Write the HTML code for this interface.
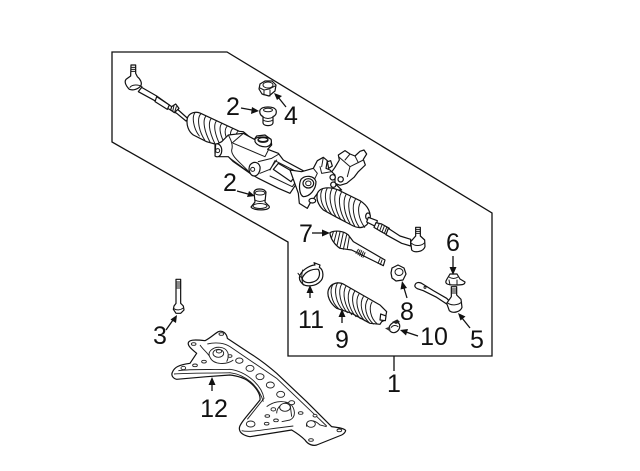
<!DOCTYPE html>
<html><head><meta charset="utf-8"><style>
html,body{margin:0;padding:0;background:#fff}
svg{display:block}
text{font-family:"Liberation Sans",sans-serif;font-size:25px;fill:#111;text-anchor:middle}
.p{fill:#fff;stroke:#111;stroke-width:1.2;stroke-linejoin:round;stroke-linecap:round}
.l{fill:none;stroke:#1a1a1a;stroke-width:1;stroke-linecap:round;stroke-linejoin:round}
.a{stroke:#111;stroke-width:1.3;fill:none}
.h{fill:#111;stroke:none}
.z .p{stroke-width:3.6}
.z .l{stroke-width:3}
</style></head><body>
<svg width="640" height="471" viewBox="0 0 640 471" xmlns="http://www.w3.org/2000/svg">
<path d="M112 52H227L492 213V356H288V242L112 142Z" fill="#fff" stroke="#111" stroke-width="1.3"/>
<path class="a" d="M394 356V371"/>

<!-- left tie rod (zoom1 coords) -->
<g class="z" transform="translate(110 50) scale(.33333)">
<path class="p" d="M95 112L140 138L182 168L205 180L235 207L228 213L200 190L178 178L140 155L85 125Z"/>
<path class="p" d="M63 45H77V70L82 80C92 88 97 100 92 108C84 118 68 122 58 118C48 108 42 96 48 88L62 78Z"/>
<path class="l" d="M63 52H77M63 58H77M63 64H77M60 112C66 104 84 102 96 110"/>
<path class="p" d="M140 140L178 165L172 178L135 155Z"/>
<path class="p" d="M185 170L197 162L207 175L193 188L182 180Z"/>
<path class="l" d="M192 166L188 184M199 170L194 186"/>
</g>

<!-- left boot + housing start -->
<g class="z" transform="translate(110 50) scale(.33333)">
<path class="p" d="M232 205C236 190 255 182 272 190L388 244L400 245L418 260L390 290L350 282L325 285L290 275L250 255C236 245 228 225 232 205Z"/>
<path class="l" d="M255 188C245 200 250 235 268 258M272 192C260 205 266 242 284 270M288 198C276 212 284 246 300 276M304 205C292 220 300 250 315 282M320 212C308 225 316 256 330 284M336 220C324 232 332 260 346 284M352 228C340 240 346 264 360 282M368 236C356 248 362 268 376 284M384 244C374 254 378 270 390 284"/>
</g>

<!-- housing (zoom5 coords) -->
<g class="z" transform="translate(215 130) scale(.33333)">
<path class="p" d="M0 45L20 35L40 15L85 10L118 28L125 18L150 15L168 28L170 45L158 58L190 70L205 90L270 125L262 135L235 175L225 190L190 175L130 145L108 132L55 95L40 80L12 80L0 70Z"/>
<path class="l" d="M40 15C48 30 55 45 50 60C48 80 80 100 108 132M85 10L50 40M55 40L150 80L160 60M45 85L100 125"/>
<path class="p" d="M120 26C130 20 155 18 168 28C172 40 165 48 155 50C140 52 125 45 120 35Z"/>
<ellipse class="p" cx="144" cy="30" rx="15" ry="7"/>
<path class="l" d="M130 30C135 36 152 36 158 30"/>
<path class="p" d="M2 42C12 38 22 50 20 65C18 78 8 84 0 78Z"/>
<circle class="l" cx="8" cy="62" r="6"/>
<path class="p" d="M105 105C115 93 130 95 135 110C137 125 128 138 118 138C105 138 98 118 105 105Z"/>
<circle class="l" cx="113" cy="118" r="6"/>
<path class="l" d="M130 95L170 85L192 72M135 130L165 118L185 90"/>
<path class="p" d="M175 118L190 100L245 132L228 155Z"/>
<path class="l" d="M165 120L180 92L258 132L232 170L165 138"/>
</g>

<!-- valve + right boot (zoom6 coords) -->
<g class="z" transform="translate(300 140) scale(.33333)">
<path class="p" d="M105 82L118 60L115 45L135 32L150 42L165 48L180 34L192 30L200 42L190 58L196 75L175 95L162 112L140 130L120 136L100 128L85 110Z"/>
<path class="l" d="M118 52L150 80L190 60M150 42L135 60M150 80L142 110M165 48L175 68"/>
<path class="p" d="M-30 90L5 95L40 85L52 62L70 52L82 62L78 85L90 90L105 105L105 130L115 140L125 150L60 150L30 190L22 205L-2 190L-5 160Z"/>
<path class="p" d="M82 65L92 62L97 78L86 85Z" fill="#444"/>
<path class="l" d="M40 85L52 100L45 115M60 80L65 100L95 95M70 52L65 80"/>
<path class="p" d="M3 118C15 105 42 105 48 125C48 150 28 170 10 170C-2 165 -5 135 3 118Z"/>
<ellipse class="p" cx="25" cy="130" rx="16" ry="14"/>
<ellipse class="l" cx="25" cy="130" rx="8" ry="7"/>
<circle class="p" cx="98" cy="112" r="8"/><circle class="p" cx="122" cy="118" r="8"/><circle class="p" cx="100" cy="134" r="8"/>
<ellipse class="p" cx="37" cy="182" rx="10" ry="7"/>
<path class="p" d="M52 160C60 140 90 140 115 150L180 182C205 198 215 220 208 240C202 262 180 268 160 258L110 232L70 210C55 195 48 178 52 160Z"/>
<path class="l" d="M68 146C56 165 64 195 80 214M82 144C70 165 78 200 94 222M96 146C84 168 92 205 108 230M110 150C98 172 106 212 122 238M124 157C112 178 120 218 136 244M138 164C126 185 134 224 150 250M152 171C140 192 148 230 164 258M166 178C154 198 160 236 178 262M182 186C170 205 176 238 194 262"/>
<ellipse class="p" cx="204" cy="229" rx="7" ry="10"/>
</g>

<!-- right tie rod (zoom2 coords) -->
<g class="z" transform="translate(250 130) scale(.33333)">
<path class="p" d="M355 262L382 272L378 290L350 276Z"/>
<path class="p" d="M378 278L395 282L418 295L412 315L392 304L372 292Z"/>
<path class="l" d="M388 280L382 296M396 284L390 300M403 288L397 304M410 292L404 308"/>
<path class="p" d="M415 295L450 318L482 328L482 348L455 340L408 314Z"/>
<path class="p" d="M497 292H511V318L524 330L525 350C520 365 495 370 485 360L482 335L497 318Z"/>
<path class="l" d="M497 298H511M497 304H511M497 310H511M485 340C495 350 515 348 524 338"/>
</g>

<!-- 2 upper bushing -->
<path class="p" d="M260 110C262 106 274 106 276 110C277 114 275 116 273 116.500V123C272 126.500 264 126.500 263 123V116.500C261 116 259 113 260 110Z"/>
<ellipse class="l" cx="268" cy="110" rx="4.500" ry="1.800"/>
<path class="l" d="M263 117C266 119 270 119 273 117M263 120C266 122 270 122 273 120"/>

<!-- 4 nut -->
<path class="p" d="M260 84L265 81L272 81L276 85L275 91L269 96L262 94L259 89Z"/>
<ellipse class="l" cx="268" cy="85" rx="5" ry="3"/>
<path class="l" d="M260 88L264 90L269 89L275 86M264 90L264 95M270 90L270 96"/>

<!-- 2 lower bushing -->
<path class="p" d="M254 192C255 188 264 188 266 192L265 202L269 206C272 211 253 211 251 207L255 202Z"/>
<ellipse class="l" cx="260" cy="193" rx="5" ry="2"/>
<ellipse class="l" cx="260" cy="206" rx="7" ry="2.500"/>
<path class="l" d="M255 200C258 202 262 202 265 200"/>

<!-- 7 inner tie rod (zoom3 coords) -->
<g class="z" transform="translate(290 220) scale(.33333)">
<path class="p" d="M120 38C135 30 160 32 175 45L190 65L285 120L280 137L185 90L170 88L150 85C135 75 120 55 120 38Z"/>
<path class="l" d="M130 36L124 56M140 35L132 66M150 36L141 76M160 38L150 84M170 44L160 88M178 50L172 85"/>
<path class="l" d="M205 88L198 100M210 90L204 104M215 92L209 107M220 95L214 110M225 98L219 112"/>
<path class="l" d="M270 116L264 130M276 120L271 134"/>
</g>

<!-- 8 nut -->
<path class="p" d="M392 268L398 265L404 268L406 274L403 280L396 281L392 278L391 273Z"/>
<ellipse class="l" cx="399" cy="272" rx="4" ry="3.500"/>

<!-- 11 clamp -->
<g class="z" transform="translate(290 220) scale(.33333)">
<path class="p" d="M30 165C40 145 65 135 75 135L72 128L90 135L88 142C102 150 102 175 90 185C78 198 50 202 38 192C30 185 26 175 30 165Z"/>
<path class="p" d="M40 168C50 152 70 146 85 148C92 160 88 175 78 182C65 190 48 190 40 182C36 178 37 172 40 168Z"/>
<path class="l" d="M24 160L33 172M38 150C34 165 34 180 40 195"/>
</g>

<!-- 9 boot -->
<g class="z" transform="translate(290 220) scale(.33333)">
<path class="p" d="M115 210C122 190 145 182 165 195L270 255L290 275L285 300L275 305L270 313L240 310L185 280L140 265C120 250 110 228 115 210Z"/>
<path class="l" d="M130 192C116 210 125 248 145 265M143 188C130 210 138 250 160 272M155 192C142 214 152 255 172 278M168 198C155 220 165 260 185 284M181 206C168 228 176 266 198 290M194 214C181 234 189 272 211 296M207 222C194 242 202 278 224 302M220 230C207 250 215 286 237 308M233 238C220 258 228 292 250 312M246 246C236 262 240 294 262 312"/>
<path class="p" d="M272 282L288 288L286 302L270 300Z"/>
</g>

<!-- 10 clamp -->
<g class="z" transform="translate(290 220) scale(.33333)">
<path class="p" d="M298 320C304 308 318 300 328 312C332 322 326 336 312 338C302 338 294 330 298 320Z"/>
<path d="M306 306L322 298L330 306L318 312Z" fill="#222"/>
<path class="l" d="M304 322C308 316 318 314 324 320"/>
<path d="M285 325L300 320L302 335Z" fill="#333"/>
</g>

<!-- 6 nut -->
<path class="p" d="M447 279L450 274L457 274L460 279L465 282C465 285 461 285 455 285C448 285 445 284 446 281Z"/>
<path class="l" d="M449 277C452 279 455 279 458 277M449 280L450 285M457 280L457 285"/>

<!-- 5 outer tie end (zoom3 coords) -->
<g class="z" transform="translate(290 220) scale(.33333)">
<path class="p" d="M375 195C378 186 388 186 395 190L430 212L470 235L480 245L470 252L440 232L400 212L382 206C376 203 373 200 375 195Z"/>
<circle class="l" cx="405" cy="202" r="3"/>
<path class="p" d="M484 200H500V225L513 238L516 262C512 275 490 282 478 272L470 250L484 230Z"/>
<path class="l" d="M484 207H500M484 213H500M484 219H500M472 248C482 258 505 256 515 246"/>
</g>

<!-- 3 bolt (zoom4 coords) -->
<g class="z" transform="translate(150 270) scale(.33333)">
<path class="p" d="M78 28H92V100L100 108L102 120L92 130L78 130L70 118L72 108L78 100Z"/>
<path class="l" d="M78 36H92M78 42H92M78 48H92M78 54H92M72 116C80 122 92 120 100 114"/>
</g>

<!-- 12 frame -->
<g transform="translate(150 270) scale(.33333)">
<path d="M115 218C118 210 130 208 165 212C180 205 195 190 205 185C218 180 230 190 232 205L300 250C340 275 380 310 380 310L470 395L545 470C560 472 585 475 587 482C585 490 575 495 575 495L500 525C490 528 475 525 465 510C450 495 425 480 425 480L300 500C285 498 268 490 268 475C268 462 290 440 330 390C332 375 320 350 290 330C270 318 240 315 240 315L170 320L80 328C68 325 62 315 68 305C74 292 85 285 120 280L140 250C128 240 112 228 115 218Z" fill="#fff" stroke="#111" stroke-width="3.6" stroke-linejoin="round"/>
<path fill="none" stroke="#222" stroke-width="2.800" d="M72 312C120 308 190 310 240 308C285 314 325 345 340 395M85 302C130 296 190 300 240 298C290 305 335 345 342 385L292 448M172 222C200 215 225 220 240 230L380 325L490 430L530 468M150 225C160 240 175 250 180 262C190 285 230 285 250 270M180 262C170 245 190 230 210 232C235 235 240 255 230 275M275 482C300 488 330 480 430 468M350 410C370 395 395 390 420 400C435 415 440 440 420 450L395 455M380 430C380 410 400 395 420 400L425 440M470 470C465 450 490 445 510 465L530 470"/>
<g fill="#fff" stroke="#222" stroke-width="2.800">
<ellipse cx="214" cy="192" rx="7" ry="4"/><ellipse cx="131" cy="222" rx="7" ry="4"/><ellipse cx="162" cy="275" rx="7" ry="4"/><ellipse cx="135" cy="286" rx="7" ry="4"/><ellipse cx="100" cy="294" rx="7" ry="5"/>
<ellipse cx="240" cy="258" rx="6" ry="4"/><ellipse cx="268" cy="272" rx="11" ry="8"/><ellipse cx="300" cy="295" rx="12" ry="9"/><ellipse cx="330" cy="320" rx="12" ry="9"/><ellipse cx="361" cy="345" rx="12" ry="9"/><ellipse cx="392" cy="373" rx="12" ry="9"/>
<ellipse cx="205" cy="250" rx="16" ry="12"/><ellipse cx="207" cy="244" rx="8" ry="5"/>
<ellipse cx="405" cy="412" rx="16" ry="12"/><ellipse cx="425" cy="398" rx="9" ry="6"/><ellipse cx="370" cy="418" rx="7" ry="5"/><ellipse cx="352" cy="438" rx="7" ry="4"/><ellipse cx="350" cy="461" rx="7" ry="4"/><ellipse cx="378" cy="451" rx="7" ry="4"/><ellipse cx="452" cy="429" rx="7" ry="4"/><ellipse cx="495" cy="437" rx="6" ry="4"/>
<ellipse cx="302" cy="462" rx="13" ry="9"/><ellipse cx="483" cy="462" rx="13" ry="10"/><ellipse cx="568" cy="481" rx="7" ry="4"/><ellipse cx="483" cy="510" rx="7" ry="4"/>
</g>
</g>

<!-- arrows -->
<path class="a" d="M241 108L252 110"/><path class="h" d="M259 111L251 114L252 107Z"/>
<path class="a" d="M286 107L278 97"/><path class="h" d="M274 93L282 96L277 100Z"/>
<path class="a" d="M237 191L248 194"/><path class="h" d="M255 196L247 197L249 191Z"/>
<path class="a" d="M312 233H323"/><path class="h" d="M330 233L322 236.500V229.500Z"/>
<path class="a" d="M453 256V268"/><path class="h" d="M453 275L449.500 267H456.500Z"/>
<path class="a" d="M407 298L404 288"/><path class="h" d="M402 281L407 288L400.500 289.500Z"/>
<path class="a" d="M310 298V292"/><path class="h" d="M310 285L313.500 293H306.500Z"/>
<path class="a" d="M342 323V316"/><path class="h" d="M342 309L345.500 317H338.500Z"/>
<path class="a" d="M418 336L406 332"/><path class="h" d="M400 330L408 329L406 335.500Z"/>
<path class="a" d="M470 328L462 318"/><path class="h" d="M458 313L465.500 316.500L460.500 320.500Z"/>
<path class="a" d="M166 330L173 320"/><path class="h" d="M177 315L176 323L170.500 319.500Z"/>
<path class="a" d="M212 391V384"/><path class="h" d="M212 377L215.500 385H208.500Z"/>

<!-- labels -->
<text x="233" y="115">2</text>
<text x="291" y="124">4</text>
<text x="230" y="191">2</text>
<text x="306" y="242">7</text>
<text x="453" y="251">6</text>
<text x="407" y="320">8</text>
<text x="311" y="328">11</text>
<text x="342" y="348">9</text>
<text x="434" y="345">10</text>
<text x="477" y="348">5</text>
<text x="160" y="344">3</text>
<text x="214" y="417">12</text>
<text x="394" y="392">1</text>
</svg>
</body></html>
